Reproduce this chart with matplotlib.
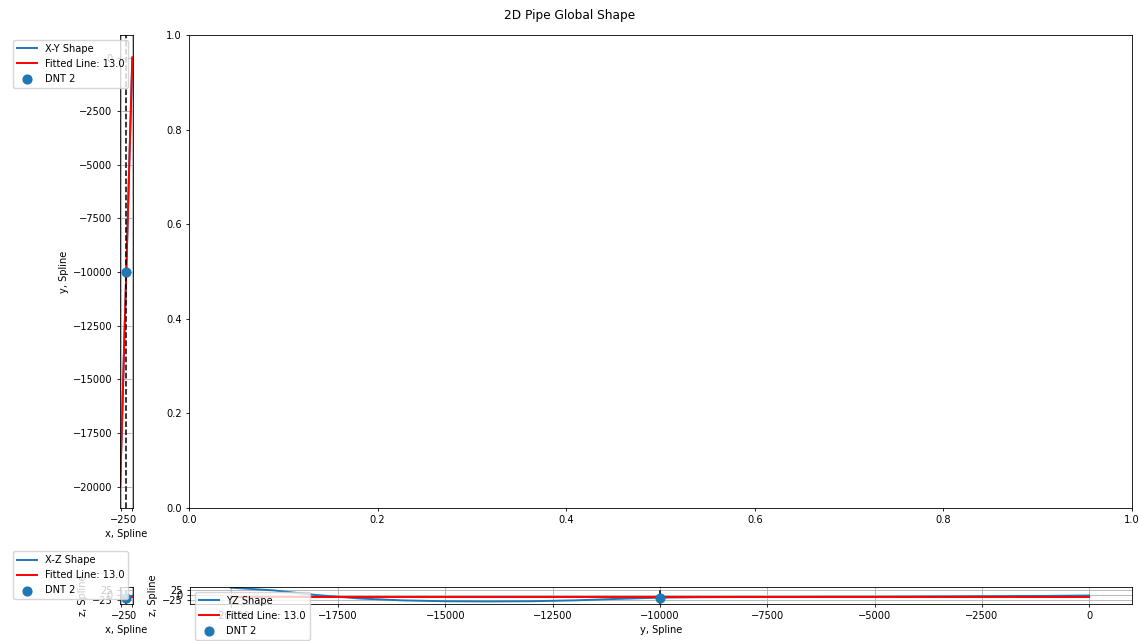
import matplotlib
matplotlib.use("Agg")
import matplotlib.pyplot as plt
from matplotlib.ticker import MultipleLocator, FixedLocator

# ---- data ----
y_pos = [-20000, -19000, -18000, -17000, -16000, -15000, -14000, -13000, -12000, -11000,
         -10000, -9000, -8000, -7000, -6000, -5000, -4000, -3000, -2000, -1000, 0]
x_pos = [-26.2, -24.8, -23.5, -22.0, -20.6, -19.5, -18.3, -17.0, -15.7, -14.3,
         -13.0, -11.6, -10.3, -9.1, -7.9, -6.6, -5.3, -3.9, -2.5, -1.2, 0.2]
z_pos = [35, 22, 0, -16, -25, -29, -30, -29, -25, -18,
         -12, -10, -9, -9, -8, -8, -7, -6, -5, -4, -2]
fit_y = [-20000, 0]
fit_x = [-26.0, 0.0]
fit_z = [-10.0, -10.0]
dnt_x, dnt_y, dnt_z = -13.0, -10000, -12.0
fit_label = "Fitted Line: 13.0"
dnt_label = "DNT 2"

fs = 7.1
plt.rcParams.update({
    "font.size": fs,
    "lines.linewidth": 1.4,
    "axes.linewidth": 0.6,
    "xtick.major.size": 2.5, "ytick.major.size": 2.5,
    "xtick.major.width": 0.6, "ytick.major.width": 0.6,
    "xtick.major.pad": 2.5, "ytick.major.pad": 2.5,
    "grid.linewidth": 0.6,
    "axes.labelpad": 2.8,
})

W, H = 1139, 641
fig = plt.figure(figsize=(W / 100, H / 100), dpi=100)

def rect(l, t, r, b):
    return [l / W, 1 - b / H, (r - l) / W, (b - t) / H]

ax1 = fig.add_axes(rect(119.5, 35, 133, 508))
ax2 = fig.add_axes(rect(189, 35, 1132, 508))
ax3 = fig.add_axes(rect(120, 587, 133, 604))
ax4 = fig.add_axes(rect(190, 587, 1132, 604))

fig.suptitle("2D Pipe Global Shape", fontsize=8.7, y=1 - 15 / H, va="center")

# X-Y
ax1.plot(x_pos, y_pos, color="C0", label="X-Y Shape")
ax1.plot(fit_x, fit_y, color="red", label=fit_label)
ax1.scatter([dnt_x], [dnt_y], s=40, color="C0", zorder=3, label=dnt_label)
ax1.axvline(dnt_x, color="black", linestyle="--", linewidth=1.1)
ax1.set_xlim(-27.5, 1.5)
ax1.set_ylim(-21000, 1050)
ax1.xaxis.set_major_locator(FixedLocator([-25, 0]))
ax1.yaxis.set_major_locator(MultipleLocator(2500))
ax1.grid(True)
ax1.set_xlabel("x, Spline")
ax1.set_ylabel("y, Spline")
ax1.legend(loc="upper right")

# empty axes
ax2.set_xlim(0, 1)
ax2.set_ylim(0, 1)

# X-Z
ax3.plot(x_pos, z_pos, color="C0", label="X-Z Shape")
ax3.plot(fit_x, fit_z, color="red", label=fit_label)
ax3.scatter([dnt_x], [dnt_z], s=40, color="C0", zorder=3, label=dnt_label)
ax3.axvline(dnt_x, color="black", linestyle="--", linewidth=1.1)
ax3.set_xlim(-27.5, 1.5)
ax3.set_ylim(-42, 38)
ax3.xaxis.set_major_locator(FixedLocator([-25, 0]))
ax3.yaxis.set_major_locator(FixedLocator([-25, 0, 25]))
ax3.grid(True)
ax3.set_xlabel("x, Spline")
ax3.set_ylabel("z, Spline")
ax3.legend(loc="lower right")

# Y-Z
ax4.plot(y_pos, z_pos, color="C0", label="YZ Shape")
ax4.plot(fit_y, fit_z, color="red", label=fit_label)
ax4.scatter([dnt_y], [dnt_z], s=40, color="C0", zorder=3, label=dnt_label)
ax4.axvline(dnt_y, color="black", linestyle="--", linewidth=1.1)
ax4.set_xlim(-20950, 1000)
ax4.set_ylim(-42, 38)
ax4.xaxis.set_major_locator(MultipleLocator(2500))
ax4.yaxis.set_major_locator(FixedLocator([-25, 0, 25]))
ax4.grid(True)
ax4.set_xlabel("y, Spline")
ax4.set_ylabel("z, Spline")
ax4.legend(loc="upper left")

fig.savefig("out.png", dpi=100)
